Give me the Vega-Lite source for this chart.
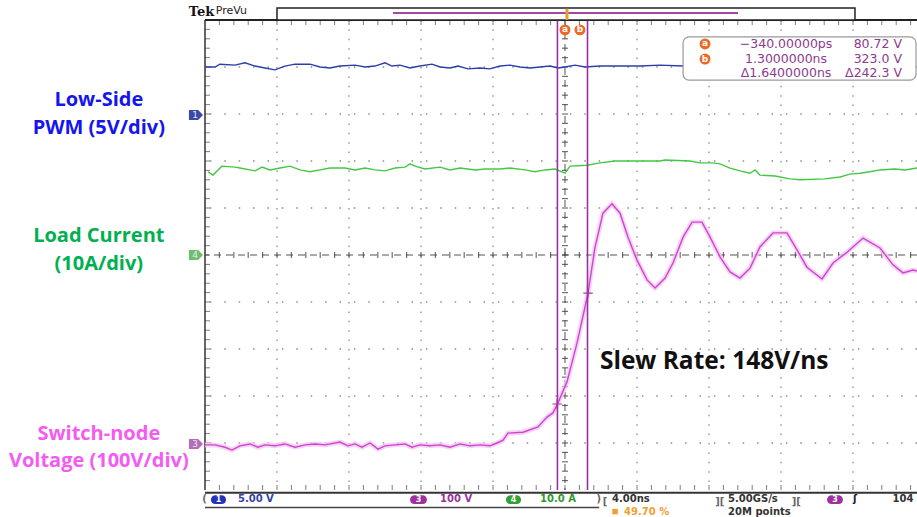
{
  "$schema": "https://vega.github.io/schema/vega-lite/v6.json",
  "width": 712,
  "height": 470,
  "autosize": {"type": "none"},
  "padding": {"left": 205, "top": 20, "right": 0, "bottom": 27},
  "background": "white",
  "config": {"view": {"stroke": null}, "axis": {"disable": true}, "legend": {"disable": true}},
  "datasets": {
    "mx": [{"t":-19.2},{"t":-18.4},{"t":-17.6},{"t":-16.8},{"t":-16},{"t":-15.2},{"t":-14.4},{"t":-13.6},{"t":-12.8},{"t":-12},{"t":-11.2},{"t":-10.4},{"t":-9.6},{"t":-8.8},{"t":-8},{"t":-7.2},{"t":-6.4},{"t":-5.6},{"t":-4.8},{"t":-4},{"t":-3.2},{"t":-2.4},{"t":-1.6},{"t":-0.8},{"t":0},{"t":0.8},{"t":1.6},{"t":2.4},{"t":3.2},{"t":4},{"t":4.8},{"t":5.6},{"t":6.4},{"t":7.2},{"t":8},{"t":8.8},{"t":9.6},{"t":10.4},{"t":11.2},{"t":12},{"t":12.8},{"t":13.6},{"t":14.4},{"t":15.2},{"t":16},{"t":16.8},{"t":17.6},{"t":18.4},{"t":19.2}],
    "my": [{"v":-4.8},{"v":-4.6},{"v":-4.4},{"v":-4.2},{"v":-4},{"v":-3.8},{"v":-3.6},{"v":-3.4},{"v":-3.2},{"v":-3},{"v":-2.8},{"v":-2.6},{"v":-2.4},{"v":-2.2},{"v":-2},{"v":-1.8},{"v":-1.6},{"v":-1.4},{"v":-1.2},{"v":-1},{"v":-0.8},{"v":-0.6},{"v":-0.4},{"v":-0.2},{"v":0},{"v":0.2},{"v":0.4},{"v":0.6},{"v":0.8},{"v":1},{"v":1.2},{"v":1.4},{"v":1.6},{"v":1.8},{"v":2},{"v":2.2},{"v":2.4},{"v":2.6},{"v":2.8},{"v":3},{"v":3.2},{"v":3.4},{"v":3.6},{"v":3.8},{"v":4},{"v":4.2},{"v":4.4},{"v":4.6},{"v":4.8}],
    "traces": [
      {"ch":"pwm","t":-20.00,"v":4.00},{"ch":"pwm","t":-19.44,"v":4.00},{"ch":"pwm","t":-19.17,"v":4.06},{"ch":"pwm","t":-18.33,"v":4.04},{"ch":"pwm","t":-17.78,"v":4.09},{"ch":"pwm","t":-17.22,"v":4.02},{"ch":"pwm","t":-16.67,"v":3.98},{"ch":"pwm","t":-16.11,"v":3.94},{"ch":"pwm","t":-15.56,"v":4.02},{"ch":"pwm","t":-15.00,"v":4.06},{"ch":"pwm","t":-14.17,"v":4.06},{"ch":"pwm","t":-13.61,"v":4.00},{"ch":"pwm","t":-13.06,"v":3.98},{"ch":"pwm","t":-12.50,"v":4.02},{"ch":"pwm","t":-11.67,"v":4.04},{"ch":"pwm","t":-11.11,"v":4.00},{"ch":"pwm","t":-10.56,"v":4.02},{"ch":"pwm","t":-10.00,"v":4.09},{"ch":"pwm","t":-9.61,"v":4.02},{"ch":"pwm","t":-9.17,"v":4.04},{"ch":"pwm","t":-8.61,"v":3.98},{"ch":"pwm","t":-8.06,"v":4.02},{"ch":"pwm","t":-7.39,"v":4.06},{"ch":"pwm","t":-6.94,"v":4.00},{"ch":"pwm","t":-6.39,"v":3.98},{"ch":"pwm","t":-5.94,"v":4.02},{"ch":"pwm","t":-5.39,"v":3.96},{"ch":"pwm","t":-4.72,"v":3.98},{"ch":"pwm","t":-4.17,"v":3.96},{"ch":"pwm","t":-3.61,"v":4.02},{"ch":"pwm","t":-3.06,"v":4.04},{"ch":"pwm","t":-2.50,"v":4.00},{"ch":"pwm","t":-1.94,"v":3.98},{"ch":"pwm","t":-1.39,"v":4.00},{"ch":"pwm","t":-0.83,"v":4.02},{"ch":"pwm","t":-0.39,"v":3.98},{"ch":"pwm","t":0,"v":4.00},{"ch":"pwm","t":0.56,"v":4.04},{"ch":"pwm","t":1.11,"v":4.00},{"ch":"pwm","t":1.94,"v":4.02},{"ch":"pwm","t":3.06,"v":4.02},{"ch":"pwm","t":4.17,"v":4.02},{"ch":"pwm","t":5.28,"v":4.04},{"ch":"pwm","t":6.56,"v":4.02},
      {"ch":"load","t":-19.83,"v":1.77},{"ch":"load","t":-19.56,"v":1.70},{"ch":"load","t":-19.06,"v":1.89},{"ch":"load","t":-18.33,"v":1.87},{"ch":"load","t":-18.06,"v":1.85},{"ch":"load","t":-17.22,"v":1.79},{"ch":"load","t":-16.83,"v":1.87},{"ch":"load","t":-16.39,"v":1.81},{"ch":"load","t":-15.83,"v":1.85},{"ch":"load","t":-15.28,"v":1.89},{"ch":"load","t":-14.72,"v":1.81},{"ch":"load","t":-14.17,"v":1.77},{"ch":"load","t":-13.61,"v":1.81},{"ch":"load","t":-13.06,"v":1.85},{"ch":"load","t":-12.22,"v":1.85},{"ch":"load","t":-11.67,"v":1.81},{"ch":"load","t":-11.11,"v":1.85},{"ch":"load","t":-10.56,"v":1.81},{"ch":"load","t":-10.00,"v":1.79},{"ch":"load","t":-9.44,"v":1.85},{"ch":"load","t":-8.89,"v":1.87},{"ch":"load","t":-8.61,"v":1.94},{"ch":"load","t":-8.33,"v":1.89},{"ch":"load","t":-7.78,"v":1.83},{"ch":"load","t":-6.94,"v":1.87},{"ch":"load","t":-6.39,"v":1.81},{"ch":"load","t":-5.83,"v":1.85},{"ch":"load","t":-5.00,"v":1.81},{"ch":"load","t":-4.44,"v":1.83},{"ch":"load","t":-3.61,"v":1.83},{"ch":"load","t":-3.06,"v":1.85},{"ch":"load","t":-2.22,"v":1.81},{"ch":"load","t":-1.67,"v":1.77},{"ch":"load","t":-1.11,"v":1.81},{"ch":"load","t":-0.56,"v":1.83},{"ch":"load","t":0,"v":1.74},{"ch":"load","t":0.28,"v":1.89},{"ch":"load","t":1.22,"v":1.91},{"ch":"load","t":1.94,"v":1.96},{"ch":"load","t":2.78,"v":2.00},{"ch":"load","t":3.89,"v":2.00},{"ch":"load","t":5.28,"v":2.00},{"ch":"load","t":5.56,"v":2.02},{"ch":"load","t":6.94,"v":2.00},{"ch":"load","t":7.50,"v":1.96},{"ch":"load","t":8.17,"v":1.96},{"ch":"load","t":8.61,"v":1.94},{"ch":"load","t":9.17,"v":1.85},{"ch":"load","t":9.72,"v":1.79},{"ch":"load","t":10.28,"v":1.74},{"ch":"load","t":10.56,"v":1.81},{"ch":"load","t":10.83,"v":1.70},{"ch":"load","t":11.67,"v":1.68},{"ch":"load","t":12.50,"v":1.62},{"ch":"load","t":13.06,"v":1.60},{"ch":"load","t":14.44,"v":1.62},{"ch":"load","t":15.28,"v":1.66},{"ch":"load","t":15.83,"v":1.72},{"ch":"load","t":16.39,"v":1.74},{"ch":"load","t":16.94,"v":1.77},{"ch":"load","t":17.50,"v":1.81},{"ch":"load","t":18.33,"v":1.83},{"ch":"load","t":18.89,"v":1.81},{"ch":"load","t":19.56,"v":1.85},
      {"ch":"sw","t":-20.00,"v":-4.04},{"ch":"sw","t":-19.44,"v":-4.04},{"ch":"sw","t":-18.89,"v":-4.09},{"ch":"sw","t":-18.50,"v":-4.15},{"ch":"sw","t":-18.06,"v":-4.06},{"ch":"sw","t":-17.50,"v":-4.02},{"ch":"sw","t":-17.06,"v":-4.09},{"ch":"sw","t":-16.67,"v":-4.04},{"ch":"sw","t":-16.11,"v":-4.06},{"ch":"sw","t":-15.56,"v":-4.02},{"ch":"sw","t":-15.00,"v":-4.09},{"ch":"sw","t":-14.44,"v":-4.04},{"ch":"sw","t":-13.89,"v":-4.02},{"ch":"sw","t":-13.33,"v":-4.04},{"ch":"sw","t":-12.50,"v":-3.98},{"ch":"sw","t":-12.06,"v":-4.06},{"ch":"sw","t":-11.67,"v":-4.02},{"ch":"sw","t":-11.28,"v":-4.09},{"ch":"sw","t":-10.83,"v":-4.00},{"ch":"sw","t":-10.39,"v":-4.13},{"ch":"sw","t":-10.00,"v":-4.06},{"ch":"sw","t":-9.44,"v":-4.04},{"ch":"sw","t":-8.89,"v":-4.02},{"ch":"sw","t":-8.50,"v":-4.09},{"ch":"sw","t":-8.06,"v":-4.04},{"ch":"sw","t":-7.50,"v":-4.06},{"ch":"sw","t":-6.94,"v":-4.04},{"ch":"sw","t":-6.39,"v":-4.09},{"ch":"sw","t":-5.83,"v":-4.02},{"ch":"sw","t":-5.28,"v":-4.06},{"ch":"sw","t":-4.72,"v":-4.04},{"ch":"sw","t":-4.17,"v":-4.06},{"ch":"sw","t":-3.78,"v":-4.00},{"ch":"sw","t":-3.44,"v":-3.94},{"ch":"sw","t":-3.17,"v":-3.79},{"ch":"sw","t":-2.33,"v":-3.77},{"ch":"sw","t":-1.50,"v":-3.66},{"ch":"sw","t":-1.00,"v":-3.45},{"ch":"sw","t":-0.67,"v":-3.36},{"ch":"sw","t":-0.44,"v":-3.19},{"ch":"sw","t":0.11,"v":-2.70},{"ch":"sw","t":0.67,"v":-1.87},{"ch":"sw","t":1.11,"v":-1.11},{"ch":"sw","t":1.28,"v":-0.81},{"ch":"sw","t":1.67,"v":0.17},{"ch":"sw","t":2.11,"v":0.89},{"ch":"sw","t":2.61,"v":1.09},{"ch":"sw","t":3.06,"v":0.89},{"ch":"sw","t":3.50,"v":0.38},{"ch":"sw","t":4.00,"v":-0.11},{"ch":"sw","t":4.56,"v":-0.53},{"ch":"sw","t":5.00,"v":-0.70},{"ch":"sw","t":5.56,"v":-0.49},{"ch":"sw","t":6.00,"v":-0.17},{"ch":"sw","t":6.56,"v":0.38},{"ch":"sw","t":7.06,"v":0.70},{"ch":"sw","t":7.61,"v":0.70},{"ch":"sw","t":8.06,"v":0.38},{"ch":"sw","t":8.61,"v":-0.04},{"ch":"sw","t":9.17,"v":-0.36},{"ch":"sw","t":9.72,"v":-0.49},{"ch":"sw","t":10.28,"v":-0.28},{"ch":"sw","t":10.83,"v":0.17},{"ch":"sw","t":11.56,"v":0.47},{"ch":"sw","t":12.33,"v":0.47},{"ch":"sw","t":12.89,"v":0.11},{"ch":"sw","t":13.44,"v":-0.26},{"ch":"sw","t":14.28,"v":-0.51},{"ch":"sw","t":14.89,"v":-0.17},{"ch":"sw","t":15.67,"v":0.06},{"ch":"sw","t":16.56,"v":0.36},{"ch":"sw","t":17.50,"v":0.15},{"ch":"sw","t":18.22,"v":-0.21},{"ch":"sw","t":18.78,"v":-0.38},{"ch":"sw","t":19.33,"v":-0.32},{"ch":"sw","t":19.56,"v":-0.34}
    ]
  },
  "layer": [
    {
      "data": {"values": [{"t":-16},{"t":-12},{"t":-8},{"t":-4},{"t":4},{"t":8},{"t":12},{"t":16}]},
      "mark": {"type": "rule", "color": "#8c8c8c", "strokeWidth": 1.3, "strokeDash": [1.5, 7.9]},
      "encoding": {
        "x": {"field": "t", "type": "quantitative", "scale": {"domain": [-20, 19.556], "nice": false, "zero": false}}
      }
    },
    {
      "data": {"values": [{"v":-4},{"v":-3},{"v":-2},{"v":-1},{"v":1},{"v":2},{"v":3},{"v":4}]},
      "mark": {"type": "rule", "color": "#8c8c8c", "strokeWidth": 1.3, "strokeDash": [1.5, 12.9]},
      "encoding": {
        "y": {"field": "v", "type": "quantitative", "scale": {"domain": [-5, 5], "nice": false, "zero": false}}
      }
    },
    {
      "data": {"values": [{}]},
      "mark": {"type": "rule", "color": "#555555", "strokeWidth": 1, "strokeDash": [7, 5]},
      "encoding": {"x": {"datum": 0, "type": "quantitative"}}
    },
    {
      "data": {"values": [{}]},
      "mark": {"type": "rule", "color": "#555555", "strokeWidth": 1, "strokeDash": [7, 5]},
      "encoding": {"y": {"datum": 0, "type": "quantitative"}}
    },
    {
      "data": {"name": "mx"},
      "mark": {"type": "tick", "orient": "vertical", "color": "#333333", "size": 6, "thickness": 1.2},
      "encoding": {"x": {"field": "t", "type": "quantitative"}, "y": {"datum": 0, "type": "quantitative"}}
    },
    {
      "data": {"name": "my"},
      "mark": {"type": "tick", "orient": "horizontal", "color": "#333333", "size": 6, "thickness": 1.2},
      "encoding": {"y": {"field": "v", "type": "quantitative"}, "x": {"datum": 0, "type": "quantitative"}}
    },
    {
      "data": {"name": "my"},
      "mark": {"type": "tick", "orient": "horizontal", "color": "#444444", "size": 5, "thickness": 1, "xOffset": 2.5},
      "encoding": {"y": {"field": "v", "type": "quantitative"}, "x": {"datum": -20, "type": "quantitative"}}
    },
    {
      "data": {"name": "mx"},
      "mark": {"type": "tick", "orient": "vertical", "color": "#444444", "size": 5, "thickness": 1, "yOffset": 2.5},
      "encoding": {"x": {"field": "t", "type": "quantitative"}, "y": {"datum": 5, "type": "quantitative"}}
    },
    {
      "data": {"name": "mx"},
      "mark": {"type": "tick", "orient": "vertical", "color": "#444444", "size": 5, "thickness": 1, "yOffset": -2.5},
      "encoding": {"x": {"field": "t", "type": "quantitative"}, "y": {"datum": -5, "type": "quantitative"}}
    },
    {
      "data": {"values": [{}]},
      "mark": {"type": "rule", "color": "#333333", "strokeWidth": 1.5},
      "encoding": {"x": {"datum": -20, "type": "quantitative"}}
    },
    {
      "data": {"values": [{}]},
      "mark": {"type": "rule", "color": "#222222", "strokeWidth": 2},
      "encoding": {"y": {"datum": 5, "type": "quantitative"}}
    },
    {
      "data": {"name": "traces"},
      "transform": [{"filter": "datum.ch === 'sw'"}],
      "mark": {"type": "line", "color": "#f6c8f6", "strokeWidth": 5, "opacity": 0.8},
      "encoding": {"x": {"field": "t", "type": "quantitative"}, "y": {"field": "v", "type": "quantitative"}}
    },
    {
      "data": {"name": "traces"},
      "mark": {"type": "line", "strokeWidth": 1.4},
      "encoding": {
        "x": {"field": "t", "type": "quantitative"},
        "y": {"field": "v", "type": "quantitative"},
        "color": {"field": "ch", "type": "nominal", "scale": {"domain": ["pwm", "load", "sw"], "range": ["#2b3fa8", "#44c844", "#cc46cc"]}}
      }
    },
    {
      "data": {"values": [{"t": -0.42}, {"t": 1.25}]},
      "mark": {"type": "rule", "color": "#9b2fa5", "strokeWidth": 1.6},
      "encoding": {"x": {"field": "t", "type": "quantitative"}}
    },
    {
      "data": {"values": [{"t": 1.28, "v": -0.81}, {"t": -0.44, "v": -3.17}]},
      "mark": {"type": "point", "shape": "M -1 0 L 1 0 M 0 -1 L 0 1", "filled": false, "size": 90, "color": "#a33aa3", "strokeWidth": 1.2, "opacity": 1},
      "encoding": {"x": {"field": "t", "type": "quantitative"}, "y": {"field": "v", "type": "quantitative"}}
    },
    {
      "data": {"values": [{"x1": 6.56, "x2": 19.5, "y1": 4.64, "y2": 3.72}]},
      "mark": {"type": "rect", "fill": "white", "stroke": "#9a9a9a", "strokeWidth": 1.2, "cornerRadius": 6},
      "encoding": {
        "x": {"field": "x1", "type": "quantitative"}, "x2": {"field": "x2"},
        "y": {"field": "y1", "type": "quantitative"}, "y2": {"field": "y2"}
      }
    },
    {
      "data": {"values": [{"t": 7.78, "v": 4.49, "l": "a"}, {"t": 7.78, "v": 4.17, "l": "b"}, {"t": 0, "v": 4.79, "l": "a"}, {"t": 0.83, "v": 4.79, "l": "b"}]},
      "layer": [
        {
          "mark": {"type": "point", "shape": "circle", "filled": true, "color": "#ec6a24", "size": 120, "opacity": 1},
          "encoding": {"x": {"field": "t", "type": "quantitative"}, "y": {"field": "v", "type": "quantitative"}}
        },
        {
          "mark": {"type": "text", "color": "white", "font": "DejaVu Sans", "fontSize": 9, "fontWeight": "bold", "align": "center", "baseline": "middle", "dy": -0.5},
          "encoding": {"x": {"field": "t", "type": "quantitative"}, "y": {"field": "v", "type": "quantitative"}, "text": {"field": "l"}}
        }
      ]
    },
    {
      "data": {"values": [
        {"t": 12.28, "v": 4.49, "s": "−340.00000ps"},
        {"t": 12.28, "v": 4.17, "s": "1.3000000ns"},
        {"t": 12.28, "v": 3.87, "s": "Δ1.6400000ns"}
      ]},
      "mark": {"type": "text", "color": "#8e3a91", "font": "DejaVu Sans", "fontSize": 12.5, "align": "center", "baseline": "middle"},
      "encoding": {"x": {"field": "t", "type": "quantitative"}, "y": {"field": "v", "type": "quantitative"}, "text": {"field": "s"}}
    },
    {
      "data": {"values": [
        {"t": 18.72, "v": 4.49, "s": "80.72 V"},
        {"t": 18.72, "v": 4.17, "s": "323.0 V"},
        {"t": 18.72, "v": 3.87, "s": "Δ242.3 V"}
      ]},
      "mark": {"type": "text", "color": "#8e3a91", "font": "DejaVu Sans", "fontSize": 12.5, "align": "right", "baseline": "middle"},
      "encoding": {"x": {"field": "t", "type": "quantitative"}, "y": {"field": "v", "type": "quantitative"}, "text": {"field": "s"}}
    },
    {
      "data": {"values": [{"t": -25.9, "v": 3.30, "s": "Low-Side"}, {"t": -25.9, "v": 2.70, "s": "PWM (5V/div)"}]},
      "mark": {"type": "text", "color": "#1515ee", "font": "Open Sans", "fontSize": 20, "fontWeight": "bold", "align": "center", "baseline": "middle"},
      "encoding": {"x": {"field": "t", "type": "quantitative"}, "y": {"field": "v", "type": "quantitative"}, "text": {"field": "s"}}
    },
    {
      "data": {"values": [{"t": -25.9, "v": 0.40, "s": "Load Current"}, {"t": -25.9, "v": -0.19, "s": "(10A/div)"}]},
      "mark": {"type": "text", "color": "#00b050", "font": "Open Sans", "fontSize": 20, "fontWeight": "bold", "align": "center", "baseline": "middle"},
      "encoding": {"x": {"field": "t", "type": "quantitative"}, "y": {"field": "v", "type": "quantitative"}, "text": {"field": "s"}}
    },
    {
      "data": {"values": [{"t": -25.9, "v": -3.81, "s": "Switch-node"}, {"t": -25.9, "v": -4.38, "s": "Voltage (100V/div)"}]},
      "mark": {"type": "text", "color": "#f35cf3", "font": "Open Sans", "fontSize": 20, "fontWeight": "bold", "align": "center", "baseline": "middle"},
      "encoding": {"x": {"field": "t", "type": "quantitative"}, "y": {"field": "v", "type": "quantitative"}, "text": {"field": "s"}}
    },
    {
      "data": {"values": [{"t": 1.94, "v": -2.28, "s": "Slew Rate: 148V/ns"}]},
      "mark": {"type": "text", "color": "#111111", "font": "Open Sans", "fontSize": 24.5, "fontWeight": "bold", "align": "left", "baseline": "middle"},
      "encoding": {"x": {"field": "t", "type": "quantitative"}, "y": {"field": "v", "type": "quantitative"}, "text": {"field": "s"}}
    },
    {
      "data": {"values": [{"t": -20.5, "v": 2.98, "l": "1", "c": "#3a4aa8"}, {"t": -20.5, "v": 0, "l": "4", "c": "#6cbf6c"}, {"t": -20.5, "v": -4.02, "l": "3", "c": "#b46cb4"}]},
      "layer": [
        {
          "mark": {"type": "point", "shape": "M -1 -0.7 L 0.3 -0.7 L 1 0 L 0.3 0.7 L -1 0.7 Z", "filled": true, "size": 200, "opacity": 1},
          "encoding": {"x": {"field": "t", "type": "quantitative"}, "y": {"field": "v", "type": "quantitative"}, "fill": {"field": "c", "type": "nominal", "scale": null}}
        },
        {
          "mark": {"type": "text", "color": "#e8e8f0", "font": "DejaVu Sans", "fontSize": 9, "align": "center", "baseline": "middle", "dx": -1},
          "encoding": {"x": {"field": "t", "type": "quantitative"}, "y": {"field": "v", "type": "quantitative"}, "text": {"field": "l"}}
        }
      ]
    },
    {
      "data": {"values": [{"x1": -16, "x2": 16.11, "y1": 5.0, "y2": 5.255}]},
      "mark": {"type": "rect", "fill": "white", "stroke": "#222222", "strokeWidth": 1.5},
      "encoding": {
        "x": {"field": "x1", "type": "quantitative"}, "x2": {"field": "x2"},
        "y": {"field": "y1", "type": "quantitative"}, "y2": {"field": "y2"}
      }
    },
    {
      "data": {"values": [{"x1": -9.56, "x2": 9.61, "y": 5.149}]},
      "mark": {"type": "rule", "color": "#a04aa6", "strokeWidth": 2},
      "encoding": {"x": {"field": "x1", "type": "quantitative"}, "x2": {"field": "x2"}, "y": {"field": "y", "type": "quantitative"}}
    },
    {
      "data": {"values": [{"t": 0.11, "y1": 5.0, "y2": 5.24}]},
      "mark": {"type": "rule", "color": "#e0a030", "strokeWidth": 3},
      "encoding": {"x": {"field": "t", "type": "quantitative"}, "y": {"field": "y1", "type": "quantitative"}, "y2": {"field": "y2"}}
    },
    {
      "data": {"values": [{"t": -20.9, "v": 5.16, "s": "Tek"}]},
      "mark": {"type": "text", "color": "#111111", "font": "DejaVu Serif", "fontSize": 13, "fontWeight": "bold", "align": "left", "baseline": "middle"},
      "encoding": {"x": {"field": "t", "type": "quantitative"}, "y": {"field": "v", "type": "quantitative"}, "text": {"field": "s"}}
    },
    {
      "data": {"values": [{"t": -19.4, "v": 5.2, "s": "PreVu"}]},
      "mark": {"type": "text", "color": "#222222", "font": "DejaVu Sans", "fontSize": 11, "align": "left", "baseline": "middle"},
      "encoding": {"x": {"field": "t", "type": "quantitative"}, "y": {"field": "v", "type": "quantitative"}, "text": {"field": "s"}}
    },
    {
      "data": {"values": [{}]},
      "mark": {"type": "rule", "color": "#333333", "strokeWidth": 2},
      "encoding": {"y": {"datum": -5.06, "type": "quantitative"}}
    },
    {
      "data": {"values": [{"x1": -20, "x2": 1.9, "y": -5.37}]},
      "mark": {"type": "rule", "color": "#444444", "strokeWidth": 1.5},
      "encoding": {"x": {"field": "x1", "type": "quantitative"}, "x2": {"field": "x2"}, "y": {"field": "y", "type": "quantitative"}}
    },
    {
      "data": {"values": [
        {"x1": -19.67, "x2": -18.83, "l": "1", "c": "#2233bb", "m": -19.25},
        {"x1": -8.61, "x2": -7.67, "l": "3", "c": "#a030a0", "m": -8.14},
        {"x1": -3.28, "x2": -2.44, "l": "4", "c": "#33a033", "m": -2.86},
        {"x1": 14.56, "x2": 15.44, "l": "3", "c": "#a030a0", "m": 15.0}
      ]},
      "layer": [
        {
          "mark": {"type": "rect", "cornerRadius": 5},
          "encoding": {
            "x": {"field": "x1", "type": "quantitative"}, "x2": {"field": "x2"},
            "y": {"datum": -5.11, "type": "quantitative"}, "y2": {"datum": -5.30},
            "fill": {"field": "c", "type": "nominal", "scale": null}
          }
        },
        {
          "mark": {"type": "text", "color": "white", "font": "DejaVu Sans", "fontSize": 8, "fontWeight": "bold", "align": "center", "baseline": "middle"},
          "encoding": {"x": {"field": "m", "type": "quantitative"}, "y": {"datum": -5.205, "type": "quantitative"}, "text": {"field": "l"}}
        }
      ]
    },
    {
      "data": {"values": [
        {"t": -18.17, "v": -5.2, "s": "5.00 V", "c": "#3344aa"},
        {"t": -6.94, "v": -5.2, "s": "100 V", "c": "#993399"},
        {"t": -1.39, "v": -5.2, "s": "10.0 A", "c": "#2e9a2e"},
        {"t": 2.61, "v": -5.2, "s": "4.00ns", "c": "#333333"},
        {"t": 3.28, "v": -5.46, "s": "49.70 %", "c": "#f0a030"},
        {"t": 9.06, "v": -5.2, "s": "5.00GS/s", "c": "#333333"},
        {"t": 9.06, "v": -5.46, "s": "20M points", "c": "#333333"},
        {"t": 16.0, "v": -5.2, "s": "ʃ", "c": "#222222"},
        {"t": 18.2, "v": -5.2, "s": "104", "c": "#333333"},
        {"t": -20.15, "v": -5.2, "s": "(", "c": "#666666"},
        {"t": 1.75, "v": -5.2, "s": ")", "c": "#666666"},
        {"t": 2.1, "v": -5.25, "s": "[", "c": "#666666"},
        {"t": 8.35, "v": -5.25, "s": "]", "c": "#666666"},
        {"t": 8.6, "v": -5.25, "s": "[", "c": "#666666"},
        {"t": 12.6, "v": -5.25, "s": "][", "c": "#666666"}
      ]},
      "mark": {"type": "text", "font": "DejaVu Sans", "fontSize": 10, "fontWeight": "bold", "align": "left", "baseline": "middle"},
      "encoding": {
        "x": {"field": "t", "type": "quantitative"}, "y": {"field": "v", "type": "quantitative"},
        "text": {"field": "s"}, "color": {"field": "c", "type": "nominal", "scale": null}
      }
    },
    {
      "data": {"values": [{"t": 2.78, "v": -5.46}]},
      "mark": {"type": "square", "color": "#f0a030", "size": 30, "opacity": 1},
      "encoding": {"x": {"field": "t", "type": "quantitative"}, "y": {"field": "v", "type": "quantitative"}}
    }
  ]
}
